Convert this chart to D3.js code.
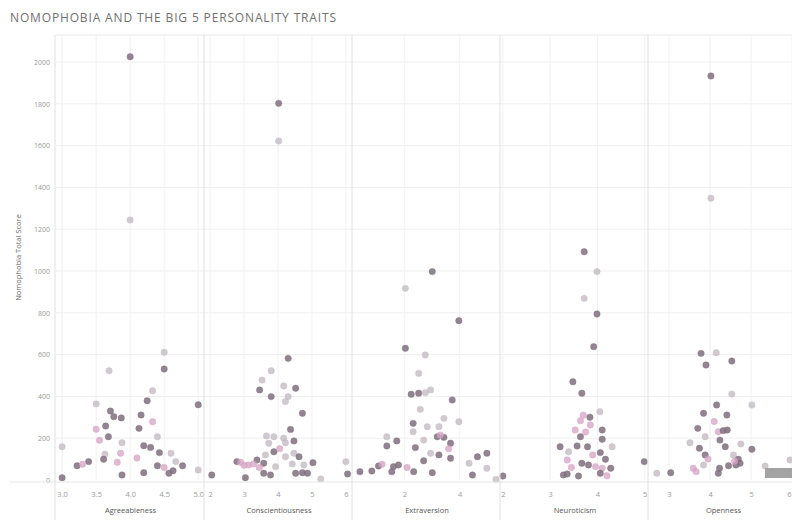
<!DOCTYPE html>
<html>
<head>
<meta charset="utf-8">
<script src="https://cdn.jsdelivr.net/npm/d3@7"></script>
<style>
  html, body { margin: 0; padding: 0; background: #fff; }
  svg { display: block; font-family: "Open Sans", "Noto Sans", sans-serif; }
</style>
</head>
<body>
<svg id="chart" width="792" height="520"></svg>
<script>
// Trait names, one column per trait
const traits = ["Agreeableness", "Conscientiousness", "Extraversion", "Neuroticism", "Openness"];

// Tick labels on each trait's x axis
const agreeTicks = [3.0, 3.5, 4.0, 4.5, 5.0];
const consTicks = [2, 3, 4, 5, 6];
const extraTicks = [2, 4];
const neuroTicks = [2, 3, 4, 5];
const openTicks = [3, 4, 5, 6];

// Y ticks (Nomophobia Total Score)
const scoreTicks = [0, 200, 400, 600, 800, 1000, 1200, 1400, 1600, 1800, 2000];

// Respondents per trait: [trait score, nomophobia total score, group]
const agreeableness = [
  [4.00, 2025, 0], [4.00, 1244, 1], [4.50, 611, 1], [3.69, 523, 1], [4.50, 531, 0],
  [4.33, 427, 1], [4.25, 379, 0], [3.50, 364, 1], [5.00, 360, 0], [3.71, 330, 0],
  [3.76, 303, 0], [3.87, 297, 0], [4.16, 311, 0], [4.33, 279, 2], [3.64, 258, 0],
  [4.13, 247, 0], [3.50, 243, 2], [3.68, 207, 0], [4.40, 207, 1], [3.88, 178, 1],
  [4.20, 164, 0], [4.30, 156, 0], [4.43, 131, 0], [3.00, 159, 1], [3.86, 128, 2],
  [3.63, 124, 1], [4.60, 128, 1], [3.61, 99, 0], [3.39, 88, 0], [3.22, 68, 0],
  [3.81, 85, 2], [4.67, 88, 1], [4.40, 68, 0], [4.77, 68, 0], [4.63, 44, 0],
  [5.00, 48, 1], [3.88, 24, 0], [4.20, 35, 0], [4.57, 32, 0], [3.00, 11, 0],
  [3.30, 75, 2], [4.50, 60, 2], [3.55, 190, 2], [4.10, 105, 2]
];

const conscientiousness = [
  [4.02, 1802, 0], [4.02, 1622, 1], [4.30, 582, 0], [3.80, 523, 1], [3.53, 478, 1],
  [3.46, 431, 0], [4.17, 450, 1], [4.52, 439, 0], [3.80, 399, 0], [4.30, 399, 1],
  [4.22, 375, 1], [4.72, 319, 0], [4.37, 242, 0], [3.66, 211, 1], [3.88, 207, 1],
  [4.17, 200, 1], [4.47, 187, 0], [3.73, 176, 1], [4.22, 178, 1], [3.63, 120, 1],
  [3.88, 135, 0], [4.22, 111, 1], [4.47, 128, 1], [4.62, 111, 0], [2.79, 88, 0],
  [3.38, 96, 0], [3.13, 72, 2], [3.28, 77, 2], [3.58, 80, 0], [3.93, 64, 1],
  [4.42, 77, 1], [4.76, 72, 1], [5.03, 83, 0], [6.00, 88, 1], [2.05, 24, 0],
  [3.04, 11, 0], [3.58, 32, 0], [3.78, 24, 0], [4.52, 32, 0], [4.72, 35, 0],
  [4.87, 32, 0], [5.26, 5, 1], [6.05, 29, 0], [3.00, 70, 2], [3.45, 60, 2],
  [4.05, 150, 2], [2.90, 85, 2]
];

const extraversion = [
  [3.01, 997, 0], [2.04, 917, 1], [3.97, 762, 0], [2.04, 630, 0], [2.76, 598, 1],
  [2.52, 510, 1], [2.25, 410, 0], [2.52, 415, 0], [2.76, 418, 1], [2.95, 431, 1],
  [3.73, 383, 0], [2.58, 338, 1], [3.43, 295, 1], [3.97, 279, 1], [2.32, 271, 0],
  [2.32, 231, 1], [2.83, 255, 1], [3.25, 255, 1], [1.37, 207, 1], [1.73, 187, 0],
  [3.19, 207, 0], [3.43, 204, 0], [3.67, 176, 0], [1.37, 163, 0], [2.40, 155, 0],
  [2.70, 191, 1], [2.95, 128, 1], [3.25, 120, 0], [3.67, 104, 0], [2.70, 92, 0],
  [4.64, 111, 0], [4.98, 128, 0], [1.07, 67, 0], [1.61, 64, 0], [1.79, 72, 0],
  [1.55, 40, 0], [0.40, 40, 0], [0.83, 43, 0], [2.34, 40, 0], [3.01, 35, 0],
  [4.34, 80, 1], [4.46, 24, 0], [4.98, 56, 1], [5.31, 3, 1], [3.30, 215, 2],
  [2.10, 60, 2], [3.60, 150, 2], [1.20, 75, 2]
];

const neuroticism = [
  [3.72, 1092, 0], [3.99, 997, 1], [3.72, 869, 1], [3.99, 794, 0], [3.92, 638, 0],
  [3.48, 470, 0], [3.67, 415, 0], [4.05, 327, 1], [3.84, 300, 0], [3.64, 284, 2],
  [3.85, 263, 2], [3.53, 239, 2], [4.10, 239, 0], [3.64, 207, 0], [4.10, 195, 0],
  [3.57, 163, 0], [3.79, 159, 0], [3.21, 159, 0], [4.31, 159, 1], [3.39, 135, 1],
  [4.06, 131, 0], [3.36, 96, 2], [4.17, 99, 0], [3.67, 80, 0], [3.81, 72, 0],
  [3.96, 64, 2], [4.10, 56, 2], [4.28, 56, 0], [4.99, 88, 0], [3.28, 24, 0],
  [3.36, 29, 0], [3.60, 19, 0], [4.06, 32, 0], [2.00, 19, 0], [3.75, 230, 2],
  [3.90, 120, 2], [3.45, 60, 2], [4.20, 20, 2], [3.70, 310, 2]
];

const openness = [
  [4.02, 1933, 0], [4.02, 1348, 1], [3.78, 606, 0], [4.15, 609, 1], [3.90, 550, 0],
  [4.53, 569, 0], [4.53, 411, 1], [4.16, 359, 0], [5.02, 359, 1], [3.84, 319, 0],
  [4.41, 311, 0], [3.70, 247, 0], [4.20, 231, 2], [4.32, 236, 0], [4.42, 239, 0],
  [4.24, 191, 0], [3.88, 207, 1], [3.51, 178, 1], [3.74, 152, 0], [4.37, 159, 0],
  [4.75, 172, 1], [5.02, 147, 0], [3.88, 120, 0], [4.57, 120, 1], [4.69, 99, 0],
  [4.73, 80, 0], [4.63, 72, 0], [4.45, 68, 0], [3.84, 72, 1], [3.59, 56, 2],
  [3.66, 40, 2], [4.23, 56, 0], [4.20, 32, 0], [2.70, 32, 1], [3.04, 35, 0],
  [5.34, 67, 1], [5.95, 96, 1], [4.10, 280, 2], [4.60, 90, 2], [3.95, 100, 2]
];

const traitData = [agreeableness, conscientiousness, extraversion, neuroticism, openness];
const traitTicks = [agreeTicks, consTicks, extraTicks, neuroTicks, openTicks];
const traitDomains = [[2.91, 5.10], [1.85, 6.21], [0.15, 5.49], [1.96, 5.09], [2.51, 6.12]];
const tickFormats = [d3.format(".1f"), d3.format("d"), d3.format("d"), d3.format("d"), d3.format("d")];

const svg = d3.select("#chart");
const W = 792, H = 520;
const paneTop = 35, paneBottom = 480, axisLeft = 56;
const panelEdges = [56, 205, 353, 501, 649, 797];

const y = d3.scaleLinear().domain([0, 2129]).range([paneBottom, paneTop]);
const color = d3.scaleOrdinal().domain([0, 1, 2]).range(["#7f6f7e", "#c6bbc4", "#d6a2c3"]);
const opacity = d3.scaleOrdinal().domain([0, 1, 2]).range([0.85, 0.8, 0.75]);

// Title
svg.append("text")
  .attr("x", 10).attr("y", 22)
  .attr("font-size", 12).attr("fill", "#707070")
  .attr("letter-spacing", 0.85)
  .text("NOMOPHOBIA AND THE BIG 5 PERSONALITY TRAITS");

// Horizontal gridlines across all panels
svg.append("g").selectAll("line")
  .data(scoreTicks.filter(d => d > 0))
  .join("line")
  .attr("x1", axisLeft).attr("x2", W)
  .attr("y1", d => y(d)).attr("y2", d => y(d))
  .attr("stroke", "#efefef").attr("stroke-width", 1);

// Top border line of the pane area
svg.append("line")
  .attr("x1", axisLeft).attr("x2", W).attr("y1", paneTop).attr("y2", paneTop)
  .attr("stroke", "#e8e8e8");

// Y axis labels
const yAxis = d3.axisLeft(y).tickValues(scoreTicks).tickFormat(d3.format("d"))
  .tickSize(0).tickPadding(6);
const gy = svg.append("g").attr("transform", `translate(${axisLeft},0)`).call(yAxis);
gy.select(".domain").remove();
gy.selectAll("text").attr("font-size", 7).attr("fill", "#9a9a9a")
  .attr("font-family", "'Open Sans', sans-serif");

svg.append("text")
  .attr("transform", `translate(21,${(paneTop + paneBottom) / 2}) rotate(-90)`)
  .attr("text-anchor", "middle")
  .attr("font-size", 7.5).attr("fill", "#666")
  .text("Nomophobia Total Score");

// Panels
traits.forEach((name, i) => {
  const x0 = panelEdges[i], x1 = panelEdges[i + 1];
  const x = d3.scaleLinear().domain(traitDomains[i]).range([x0, x1]);
  const g = svg.append("g");

  // Vertical gridlines at tick positions
  g.selectAll("line.vgrid")
    .data(traitTicks[i])
    .join("line")
    .attr("class", "vgrid")
    .attr("x1", d => x(d)).attr("x2", d => x(d))
    .attr("y1", paneTop).attr("y2", paneBottom)
    .attr("stroke", "#f1f1f1");

  // X axis tick labels
  const xAxis = d3.axisBottom(x).tickValues(traitTicks[i]).tickFormat(tickFormats[i])
    .tickSize(0).tickPadding(9);
  const gx = g.append("g").attr("transform", `translate(0,${paneBottom + 3})`).call(xAxis);
  gx.select(".domain").remove();
  gx.selectAll("text").attr("font-size", 7.5).attr("fill", "#9a9a9a")
    .attr("font-family", "'Open Sans', sans-serif");
  // keep a label that sits on the right edge inside the page
  gx.selectAll(".tick")
    .filter(d => x(d) > W - 4)
    .select("text")
    .attr("text-anchor", "end")
    .attr("dx", d => W - 1 - x(d));

  // Axis title
  g.append("text")
    .attr("x", (x0 + Math.min(x1, W)) / 2 + (i === 4 ? 3 : 0))
    .attr("y", 513)
    .attr("text-anchor", "middle")
    .attr("font-size", 7.5).attr("fill", "#555")
    .text(name);

  // Points
  g.selectAll("circle")
    .data(traitData[i])
    .join("circle")
    .attr("cx", d => x(d[0]))
    .attr("cy", d => y(d[1]))
    .attr("r", 3.2)
    .attr("fill", d => color(d[2]))
    .attr("fill-opacity", d => opacity(d[2]))
    .attr("stroke", d => color(d[2]))
    .attr("stroke-opacity", 0.4)
    .attr("stroke-width", 1);
});

// Zero baseline and bottom of the pane
svg.append("line")
  .attr("x1", 10).attr("x2", W).attr("y1", paneBottom + 2).attr("y2", paneBottom + 2)
  .attr("stroke", "#e6e6e6");

// Panel separators and left axis line (run through the axis area)
svg.append("g").selectAll("line")
  .data(panelEdges.slice(0, 5))
  .join("line")
  .attr("x1", d => d - 1).attr("x2", d => d - 1)
  .attr("y1", paneTop).attr("y2", H)
  .attr("stroke", "#e0e0e0");

// Small control box at the lower right corner
svg.append("rect")
  .attr("x", 765).attr("y", 468).attr("width", 28).attr("height", 10)
  .attr("fill", "#a3a3a3");
</script>
</body>
</html>
